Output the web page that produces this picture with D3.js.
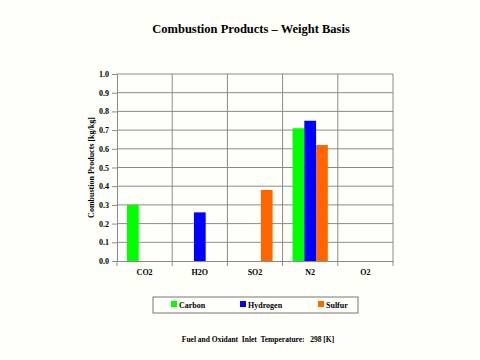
<!DOCTYPE html>
<html><head><meta charset="utf-8">
<script src="https://cdn.jsdelivr.net/npm/d3@7"></script>
<style>body{margin:0;background:#fffffa;}svg{display:block;}</style>
</head><body>
<script>
const categories = ["CO2","H2O","SO2","N2","O2"];
const seriesNames = ["Carbon","Hydrogen","Sulfur"];
const carbon   = [0.30, 0,    0,    0.71,  0];
const hydrogen = [0,    0.26, 0,    0.75,  0];
const sulfur   = [0,    0,    0.38, 0.62,  0];
const yTicks = [0,0.1,0.2,0.3,0.4,0.5,0.6,0.7,0.8,0.9,1.0];
const colors = ["#00ff00","#0000ff","#ff6600"];
const seriesVals = [carbon, hydrogen, sulfur];

const W=480,H=360;
const svg=d3.select("body").append("svg").attr("width",W).attr("height",H)
  .style("font-family","'Liberation Serif','Times New Roman',serif");
svg.append("rect").attr("width",W).attr("height",H).attr("fill","#fffffa");

const L=117,R=393,T=74,B=261;
const x=d3.scaleBand().domain(categories).range([L,R]);
const xs=d3.scaleBand().domain(seriesNames).range([0,x.bandwidth()]).paddingInner(0).paddingOuter(0.85);
const y=d3.scaleLinear().domain([0,1]).range([B,T]);

// horizontal gridlines
svg.append("g").selectAll("line").data(yTicks.slice(1)).join("line")
  .attr("x1",L).attr("x2",R).attr("y1",d=>y(d)).attr("y2",d=>y(d))
  .attr("stroke","#8a8a8a").attr("stroke-width",1);
// vertical gridlines at category boundaries
svg.append("g").selectAll("line").data(categories.slice(1).concat(["_end"])).join("line")
  .attr("x1",(d,i)=> i<categories.length-1 ? x(d) : R).attr("x2",(d,i)=> i<categories.length-1 ? x(d) : R)
  .attr("y1",T).attr("y2",B).attr("stroke","#8a8a8a").attr("stroke-width",1);

// bars
seriesNames.forEach((s,si)=>{
  svg.append("g").selectAll("rect").data(categories.map((c,i)=>({c,v:seriesVals[si][i]})).filter(d=>d.v>0))
    .join("rect")
    .attr("x",d=>x(d.c)+xs(s)).attr("width",xs.bandwidth())
    .attr("y",d=>y(d.v)).attr("height",d=>B-y(d.v))
    .attr("fill",colors[si]);
});

// y axis
const ya=svg.append("g").attr("transform",`translate(${L},0)`)
  .call(d3.axisLeft(y).tickValues(yTicks).tickFormat(d3.format(".1f")).tickSize(5).tickPadding(3));
ya.select(".domain").attr("stroke","#8a8a8a");
ya.selectAll(".tick line").attr("stroke","#8a8a8a");
ya.selectAll("text").attr("font-size",8).attr("font-weight","bold").attr("fill","#000")
  .attr("font-family","'Liberation Serif',serif");

// x axis
const xa=svg.append("g").attr("transform",`translate(0,${B})`)
  .call(d3.axisBottom(x).tickSize(0).tickPadding(8));
xa.select(".domain").attr("stroke","#8a8a8a");
xa.selectAll("text").attr("font-size",8).attr("font-weight","bold").attr("fill","#000")
  .attr("font-family","'Liberation Serif',serif");
svg.append("g").selectAll("line").data(d3.range(categories.length+1)).join("line")
  .attr("x1",i=>L+i*x.step()).attr("x2",i=>L+i*x.step()).attr("y1",B).attr("y2",B+5)
  .attr("stroke","#8a8a8a");

// title
svg.append("text").attr("x",251).attr("y",33).attr("text-anchor","middle")
  .attr("font-size",12.5).attr("font-weight","bold").text("Combustion Products – Weight Basis");

// y label
svg.append("text").attr("transform",`translate(94,${(T+B)/2}) rotate(-90)`).attr("text-anchor","middle")
  .attr("font-size",8).attr("font-weight","bold").text("Combustion Products [kg/kg]");

// legend
const lg=svg.append("g");
lg.append("rect").attr("x",153).attr("y",297).attr("width",205).attr("height",16)
  .attr("fill","#fffffa").attr("stroke","#777").attr("stroke-width",1);
const lx=[171,240,318];
seriesNames.forEach((s,i)=>{
  lg.append("rect").attr("x",lx[i]).attr("y",301).attr("width",6).attr("height",6).attr("fill",colors[i]);
  lg.append("text").attr("x",lx[i]+8).attr("y",307.5).attr("font-size",8).attr("font-weight","bold").text(s);
});

// footer
svg.append("text").attr("x",258).attr("y",342).attr("text-anchor","middle")
  .attr("font-size",7.5).attr("font-weight","bold").attr("xml:space","preserve")
  .text("Fuel and Oxidant  Inlet  Temperature:   298 [K]");
</script>
</body></html>
